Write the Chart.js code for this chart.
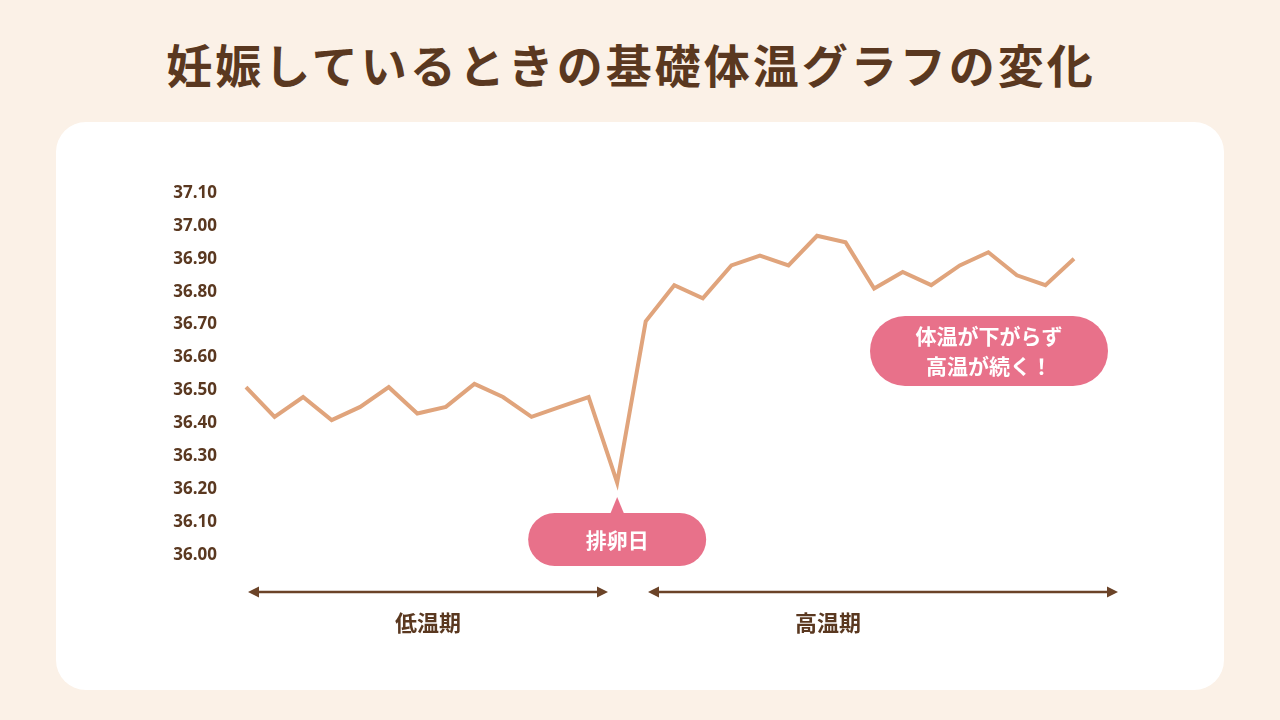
<!DOCTYPE html>
<html><head><meta charset="utf-8">
<script src="https://cdn.jsdelivr.net/npm/chart.js@4"></script>
<style>
html,body{margin:0;padding:0;width:1280px;height:720px;background:#fbf1e7;overflow:hidden;font-family:"Noto Sans CJK JP",sans-serif}
#card{position:absolute;left:56px;top:122px;width:1168px;height:568px;background:#fff;border-radius:30px}
#title{position:absolute;left:0;top:27px;width:1262px;text-align:center;font-size:46px;font-weight:700;color:#5a3820;letter-spacing:3px;line-height:72px}
canvas{position:absolute;left:0;top:0}
</style></head><body>
<div id="card"></div>
<div id="title">妊娠しているときの基礎体温グラフの変化</div>
<canvas id="c" width="1280" height="720"></canvas>
<script>
const days = Array.from({length:30},(_,i)=>String(i+1));
const temps = [36.51,36.42,36.48,36.41,36.45,36.51,36.43,36.45,36.52,36.48,36.42,36.45,36.48,36.22,36.71,36.82,36.78,36.88,36.91,36.88,36.97,36.95,36.81,36.86,36.82,36.88,36.92,36.85,36.82,36.90];
const ovulationIndex = 13;
const brown = '#6b4328';
const pink = '#e8718a';
function pill(ctx,x,y,w,h){const r=h/2;ctx.beginPath();ctx.moveTo(x+r,y);ctx.lineTo(x+w-r,y);ctx.arc(x+w-r,y+r,r,-Math.PI/2,Math.PI/2);ctx.lineTo(x+r,y+h);ctx.arc(x+r,y+r,r,Math.PI/2,Math.PI*1.5);ctx.closePath();ctx.fill();}
function arrow(ctx,x1,x2,y){ctx.strokeStyle=brown;ctx.fillStyle=brown;ctx.lineWidth=2.5;ctx.beginPath();ctx.moveTo(x1+4,y);ctx.lineTo(x2-4,y);ctx.stroke();
 [[x1,1],[x2,-1]].forEach(([x,d])=>{ctx.beginPath();ctx.moveTo(x,y);ctx.lineTo(x+d*11,y-5.5);ctx.lineTo(x+d*11,y+5.5);ctx.closePath();ctx.fill();});}
const annot = {id:'annot',afterDraw(chart){
 const ctx=chart.ctx, xs=chart.scales.x;
 const ox=xs.getPixelForValue(ovulationIndex);
 ctx.save();
 ctx.fillStyle=pink;
 pill(ctx,ox-89,513,178,53);
 ctx.beginPath();ctx.moveTo(ox,497);ctx.lineTo(ox-7,514);ctx.lineTo(ox+7,514);ctx.closePath();ctx.fill();
 pill(ctx,870,316,238,70);
 ctx.fillStyle='#fff';ctx.textAlign='center';ctx.textBaseline='middle';
 ctx.font='700 21px "Noto Sans CJK JP"';
 ctx.fillText('排卵日',ox,540);
 ctx.fillText('体温が下がらず',989,336);
 ctx.fillText('高温が続く！',989,366);
 arrow(ctx,248,608,592);
 arrow(ctx,648,1118,592);
 ctx.fillStyle='#5a3820';ctx.font='700 22px "Noto Sans CJK JP"';
 ctx.fillText('低温期',428,623);ctx.fillText('高温期',828,623);
 ctx.restore();
}};
new Chart(document.getElementById('c'),{type:'line',
 data:{labels:days,datasets:[{data:temps,borderColor:'#e0a47c',borderWidth:4,pointRadius:0,tension:0,fill:false}]},
 options:{responsive:false,animation:false,
  layout:{padding:{left:150,right:206,top:193,bottom:165}},
  plugins:{legend:{display:false},tooltip:{enabled:false}},
  scales:{
   x:{display:false,offset:false},
   y:{min:36.0,max:37.1,afterFit(s){s.width=96;},border:{display:false},grid:{display:false},
      ticks:{stepSize:0.1,padding:21,color:'#5a3820',font:{family:'"Open Sans",sans-serif',size:17,weight:'700'},callback:v=>Number(v).toFixed(2)}}
  }},
 plugins:[annot]});
</script></body></html>
